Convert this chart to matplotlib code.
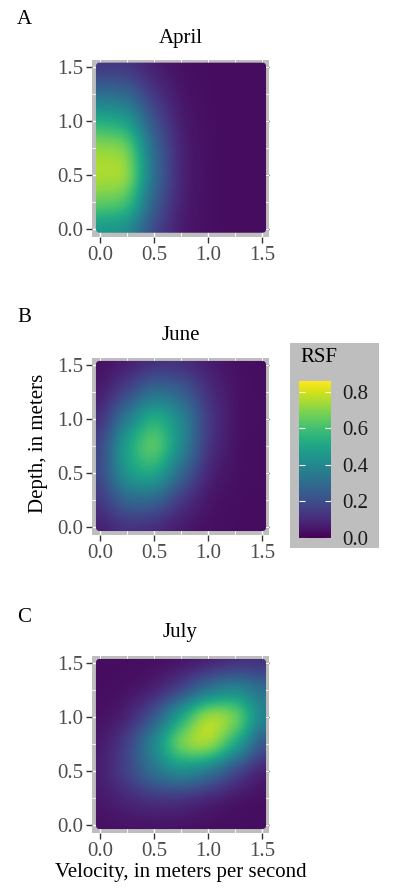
import numpy as np
import matplotlib
matplotlib.use("Agg")
import matplotlib.pyplot as plt
from matplotlib.patches import FancyBboxPatch, Rectangle

plt.rcParams['font.family'] = ['Liberation Serif', 'DejaVu Serif']

# ---- data (RSF values; rows = depth, cols = velocity) ----
velocity = [0.0, 0.25, 0.5, 0.75, 1.0, 1.25, 1.5]
depth = [0.0, 0.25, 0.5, 0.75, 1.0, 1.25, 1.5]

rsf_april = [
    [0.47, 0.42, 0.20, 0.070, 0.035, 0.030, 0.030],
    [0.65, 0.59, 0.27, 0.085, 0.036, 0.030, 0.030],
    [0.75, 0.70, 0.32, 0.095, 0.037, 0.030, 0.030],
    [0.71, 0.65, 0.30, 0.090, 0.036, 0.030, 0.030],
    [0.53, 0.47, 0.225, 0.073, 0.034, 0.030, 0.030],
    [0.31, 0.28, 0.14, 0.054, 0.032, 0.030, 0.030],
    [0.15, 0.14, 0.078, 0.040, 0.030, 0.030, 0.030],
]
rsf_june = [
    [0.084, 0.13, 0.117, 0.066, 0.037, 0.030, 0.030],
    [0.149, 0.28, 0.28, 0.150, 0.057, 0.033, 0.030],
    [0.20, 0.443, 0.507, 0.292, 0.099, 0.039, 0.030],
    [0.192, 0.48, 0.627, 0.407, 0.143, 0.046, 0.030],
    [0.131, 0.354, 0.52, 0.388, 0.154, 0.050, 0.033],
    [0.072, 0.183, 0.298, 0.254, 0.119, 0.047, 0.032],
    [0.041, 0.078, 0.126, 0.122, 0.072, 0.040, 0.030],
]
rsf_july = [
    [0.038, 0.045, 0.049, 0.045, 0.037, 0.032, 0.030],
    [0.058, 0.098, 0.138, 0.139, 0.101, 0.060, 0.038],
    [0.074, 0.171, 0.32, 0.413, 0.354, 0.206, 0.091],
    [0.062, 0.166, 0.393, 0.66, 0.72, 0.515, 0.25],
    [0.041, 0.091, 0.242, 0.503, 0.72, 0.66, 0.395],
    [0.030, 0.043, 0.087, 0.197, 0.34, 0.40, 0.313],
    [0.030, 0.030, 0.037, 0.057, 0.096, 0.132, 0.132],
]
months = ["April", "June", "July"]
letters = ["A", "B", "C"]
tick_vals = [0.0, 0.5, 1.0, 1.5]
tick_labels = ["0.0", "0.5", "1.0", "1.5"]
cbar_ticks = [0.0, 0.2, 0.4, 0.6, 0.8]
cbar_labels = ["0.0", "0.2", "0.4", "0.6", "0.8"]
rsf_max = 0.86

W, H = 393, 894
fig = plt.figure(figsize=(W / 100, H / 100), dpi=100)

panel_gray = '#bebebe'
panel_tops = [60.0, 358.3, 656.3]
panel_px = 177.0
left_px = 92.0
title_y = [39, 335, 633]
letter_y = [20, 318, 617]

dv = velocity[1] - velocity[0]
im = None
for k, Z in enumerate([rsf_april, rsf_june, rsf_july]):
    top = panel_tops[k]
    ax = fig.add_axes([left_px / W, (H - top - panel_px) / H, panel_px / W, panel_px / H])
    ax.set_facecolor(panel_gray)
    ax.set_xlim(-0.074, 1.565)
    ax.set_ylim(-0.077, 1.562)
    for s in ax.spines.values():
        s.set_visible(False)
    ax.set_xticks(tick_vals)
    ax.set_xticklabels(tick_labels)
    ax.set_yticks(tick_vals)
    ax.set_yticklabels(tick_labels)
    ax.set_xticks([0.25, 0.75, 1.25], minor=True)
    ax.set_yticks([0.25, 0.75, 1.25], minor=True)
    ax.grid(which='major', color='white', lw=1.0)
    ax.grid(which='minor', color='white', lw=0.6)
    ax.set_axisbelow(True)
    ax.tick_params(which='minor', length=0)
    ax.tick_params(which='major', direction='out', length=4.5, width=1.0,
                   color='#333333', labelsize=15, labelcolor='#4d4d4d', pad=2)

    clip = FancyBboxPatch((-0.0375, -0.0375), 1.575, 1.575,
                          boxstyle='round,pad=0,rounding_size=0.035',
                          transform=ax.transData, fc='none', ec='none')
    im = ax.imshow(np.array(Z), origin='lower',
                   extent=(velocity[0] - dv / 2, velocity[-1] + dv / 2,
                           depth[0] - dv / 2, depth[-1] + dv / 2),
                   cmap='viridis', vmin=0, vmax=rsf_max, aspect='auto',
                   interpolation='catrom', interpolation_stage='data', zorder=2)
    im.set_clip_path(clip)

    sx = ax.secondary_xaxis('top')
    sx.set_xticks(tick_vals)
    sx.tick_params(direction='in', length=3, width=1.0, color='#333333', labeltop=False)
    sx.spines['top'].set_visible(False)
    sy = ax.secondary_yaxis('right')
    sy.set_yticks(tick_vals)
    sy.tick_params(direction='in', length=3, width=1.0, color='#333333', labelright=False)
    sy.spines['right'].set_visible(False)

    fig.text(180.5 / W, 1 - title_y[k] / H, months[k], ha='center', va='center', fontsize=15)
    fig.text(17 / W, 1 - letter_y[k] / H, letters[k], ha='left', va='center', fontsize=15)

fig.text(38 / W, 1 - 443 / H, "Depth, in meters", rotation=90, ha='center', va='center', fontsize=15)
fig.text(181 / W, 1 - 872 / H, "Velocity, in meters per second", ha='center', va='center', fontsize=15)

# legend box
fig.add_artist(Rectangle((290 / W, 1 - 548 / H), 89 / W, 205 / H, transform=fig.transFigure,
                         fc=panel_gray, ec='none', zorder=0))
cax = fig.add_axes([299 / W, (H - 538) / H, 32 / W, 157 / H])
cb = fig.colorbar(im, cax=cax)
cb.outline.set_visible(False)
cb.set_ticks(cbar_ticks)
cb.set_ticklabels(cbar_labels)
cax.tick_params(length=0, labelsize=15, labelcolor='#1a1a1a', pad=8)
cax.hlines(cbar_ticks, 0, 0.2, transform=cax.get_yaxis_transform(), color='white', lw=0.8)
cax.hlines(cbar_ticks, 0.8, 1.0, transform=cax.get_yaxis_transform(), color='white', lw=0.8)
fig.text(300 / W, 1 - 357 / H, "RSF", ha='left', va='center', fontsize=15)

fig.savefig("out.png", dpi=100)
